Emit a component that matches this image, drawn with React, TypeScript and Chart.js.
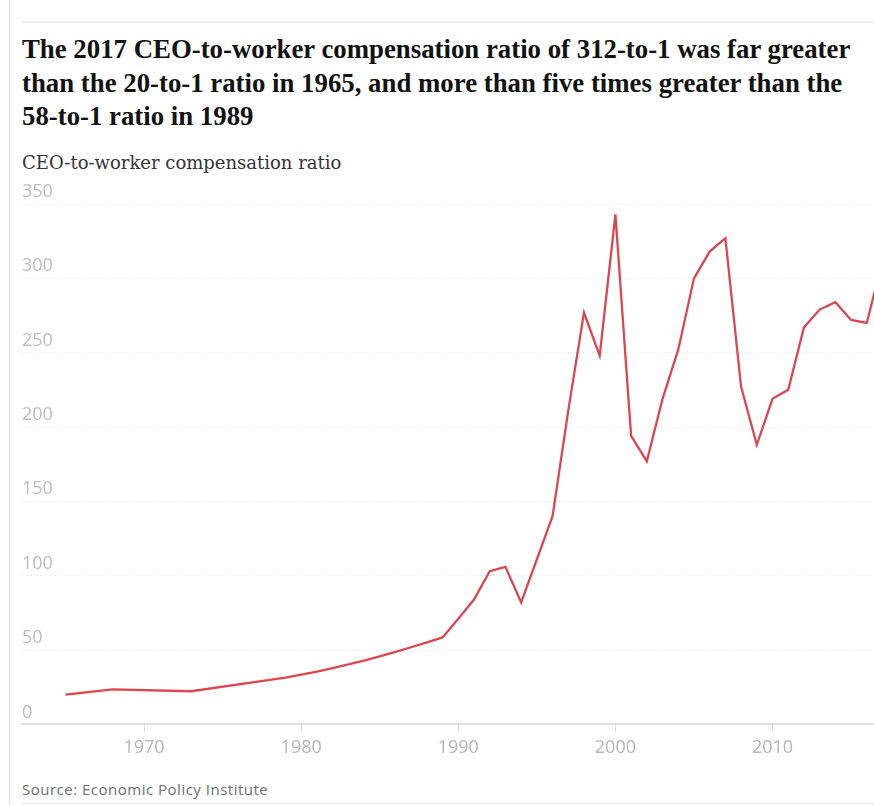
import React, { useEffect, useRef } from "react";
import { Chart, registerables } from "chart.js";

Chart.register(...registerables);

const title = [
  "The 2017 CEO-to-worker compensation ratio of 312-to-1 was far greater",
  "than the 20-to-1 ratio in 1965, and more than five times greater than the",
  "58-to-1 ratio in 1989",
];
const subtitle = "CEO-to-worker compensation ratio";
const source = "Source: Economic Policy Institute";

const years = [
  1965, 1968, 1973, 1978, 1979, 1980, 1981, 1982, 1983, 1984, 1985, 1986, 1987, 1988, 1989,
  1990, 1991, 1992, 1993, 1994, 1995, 1996, 1997, 1998, 1999, 2000, 2001, 2002, 2003, 2004,
  2005, 2006, 2007, 2008, 2009, 2010, 2011, 2012, 2013, 2014, 2015, 2016, 2017,
];
const ratios = [
  20.0, 23.6, 22.3, 29.9, 31.5, 33.5, 35.5, 37.8, 40.3, 42.9, 45.8, 48.8, 51.9, 55.1, 58.5,
  71, 84, 103, 106, 82, 111, 140, 211, 277, 248, 343, 194, 177, 219, 252,
  300, 318, 327, 227, 188, 219, 225, 267, 279, 284, 272, 270, 312,
];
const xTickYears = [1970, 1980, 1990, 2000, 2010];
const yTickValues = [0, 50, 100, 150, 200, 250, 300, 350];

export default function App() {
  const canvasRef = useRef<HTMLCanvasElement | null>(null);

  useEffect(() => {
    const canvas = canvasRef.current;
    if (!canvas) return;
    const chart = new Chart(canvas, {
      type: "line",
      data: {
        datasets: [
          {
            data: years.map((yr, i) => ({ x: yr, y: ratios[i] })),
            borderColor: "#dc4650",
            borderWidth: 2.3,
            pointRadius: 0,
            tension: 0,
            fill: false,
          },
        ],
      },
      options: {
        animation: false,
        responsive: false,
        maintainAspectRatio: false,
        devicePixelRatio: 1,
        layout: { padding: { left: 22, right: 0, top: 29, bottom: 0 } },
        plugins: { legend: { display: false }, tooltip: { enabled: false } },
        scales: {
          x: {
            type: "linear",
            min: 1962.23,
            max: 2016.46,
            afterBuildTicks: (scale: any) => {
              scale.ticks = xTickYears.map((v) => ({ value: v }));
            },
            grid: {
              drawOnChartArea: false,
              drawTicks: true,
              tickLength: 7,
              color: "#dcdcdc",
              lineWidth: 1,
            },
            border: { display: true, color: "#dcdcdc", width: 2 },
            ticks: {
              color: "#b5b5b5",
              font: { family: "'Open Sans'", size: 18 },
              padding: 6,
              maxRotation: 0,
              autoSkip: false,
              callback: (v: any) => String(v),
            },
          },
          y: {
            min: 0,
            max: 350,
            afterBuildTicks: (scale: any) => {
              scale.ticks = yTickValues.map((v) => ({ value: v }));
            },
            grid: { color: "#e4e4e4", lineWidth: 1, drawTicks: false },
            border: { display: false, dash: [1, 2] },
            ticks: {
              mirror: true,
              padding: 0,
              labelOffset: -12,
              color: "#bdbdbd",
              font: { family: "'Open Sans'", size: 18 },
              callback: (v: any) => String(v),
            },
          },
        },
      },
    });
    return () => chart.destroy();
  }, []);

  return (
    <div
      style={{
        position: "absolute",
        left: 0,
        top: 0,
        width: 874,
        height: 805,
        overflow: "hidden",
        background: "#ffffff",
      }}
    >
      <div style={{ position: "absolute", left: 9, top: 0, width: 1, height: 805, background: "#e2e2e2" }} />
      <div style={{ position: "absolute", left: 22, top: 21, right: 0, height: 2, background: "#ececec" }} />
      <div
        style={{
          position: "absolute",
          left: 22,
          top: 33,
          fontFamily: "'Liberation Serif', serif",
          fontWeight: 700,
          fontSize: 26.8,
          lineHeight: "33.5px",
          color: "#121212",
          whiteSpace: "nowrap",
        }}
      >
        {title.map((t, i) => (
          <div key={i}>{t}</div>
        ))}
      </div>
      <div
        style={{
          position: "absolute",
          left: 22,
          top: 152,
          fontFamily: "'DejaVu Serif', serif",
          fontSize: 18,
          lineHeight: "22px",
          color: "#333333",
          whiteSpace: "nowrap",
        }}
      >
        {subtitle}
      </div>
      <canvas
        ref={canvasRef}
        width={874}
        height={590}
        style={{ position: "absolute", left: 0, top: 175, width: 874, height: 590 }}
      />
      <div
        style={{
          position: "absolute",
          left: 22,
          top: 779,
          fontFamily: "'Open Sans', sans-serif",
          fontSize: 15,
          letterSpacing: 0.5,
          lineHeight: "20px",
          color: "#707070",
          whiteSpace: "nowrap",
        }}
      >
        {source}
      </div>
      <div style={{ position: "absolute", left: 22, top: 803, right: 0, height: 1, background: "#e2e2e2" }} />
    </div>
  );
}
